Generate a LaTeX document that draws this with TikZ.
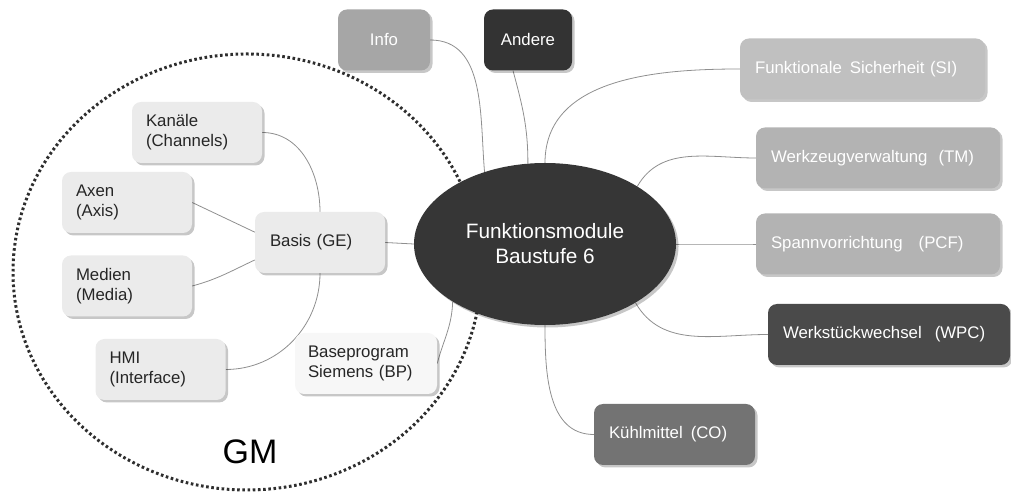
\documentclass[tikz,border=0pt]{standalone}
\usepackage{fontspec}
\setmainfont{Liberation Sans}
\usetikzlibrary{shapes.geometric,shadows}

\definecolor{boxlight}{HTML}{EBEBEB}
\definecolor{boxwhite}{HTML}{F7F7F7}
\definecolor{txtdark}{HTML}{262626}
\definecolor{infofill}{HTML}{A6A6A6}
\definecolor{anderefill}{HTML}{333333}
\definecolor{sifill}{HTML}{C0C0C0}
\definecolor{tmfill}{HTML}{B3B3B3}
\definecolor{wpcfill}{HTML}{4A4A4A}
\definecolor{cofill}{HTML}{737373}
\definecolor{ellfill}{HTML}{363636}
\definecolor{linkgray}{HTML}{8F8F8F}
\definecolor{dotgray}{HTML}{2E2E2E}

\pgfdeclarelayer{bg}
\pgfsetlayers{bg,main}

\begin{document}
\begin{tikzpicture}[x=1pt,y=1pt,
  softshadow/.style={drop shadow={shadow xshift=2.5pt,shadow yshift=-2.5pt,opacity=0.22,fill=black}},
  box/.style={rounded corners=9pt, minimum height=61pt, inner ysep=0pt,
    font=\fontsize{16.8}{20}\selectfont, softshadow},
  lbox/.style={box, fill=boxlight, text=txtdark, align=left, inner xsep=14pt, text width=102pt},
  rbox/.style={box, text=white, align=left, inner xsep=15pt, text width=#1},
  tbox/.style={box, text=white, align=center, inner xsep=0pt, minimum width=#1},
  link/.style={draw=linkgray, line width=0.8pt},
  gmline/.style={draw=dotgray, line width=3pt, dash pattern=on 2.6pt off 2.6pt},
]
\useasboundingbox (0,0) rectangle (1011,492);

% group boundary
\begin{pgfonlayer}{bg}
  \draw[gmline] (247,220) ellipse [x radius=234pt, y radius=218pt];
\end{pgfonlayer}

% central topic
\node[ellipse, fill=ellfill, minimum width=262pt, minimum height=162pt, inner sep=0pt,
  text=white, align=center, font=\fontsize{20.8}{25}\selectfont, softshadow]
  (core) at (545,248) {Funktionsmodule\\Baustufe 6};

% top nodes
\node[tbox=92pt, fill=infofill] (info) at (384,452) {Info};
\node[tbox=88pt, fill=anderefill] (andere) at (528,452) {Andere};

% right nodes
\node[rbox=215pt, fill=sifill] (si) at (862.5,423) {Funktionale\hspace{8pt}Sicherheit (SI)};
\node[rbox=214pt, fill=tmfill] (tm) at (878,334) {Werkzeugverwaltung\hspace{11pt}(TM)};
\node[rbox=214pt, fill=tmfill] (pcf) at (878,248) {Spannvorrichtung\hspace{16pt}(PCF)};
\node[rbox=212pt, fill=wpcfill] (wpc) at (889,157.5) {Werkstückwechsel\hspace{13pt}(WPC)};
\node[rbox=131pt, fill=cofill] (co) at (674.5,57.5) {Kühlmittel\hspace{8pt}(CO)};

% GM group
\node[lbox, text width=100pt, inner xsep=15pt] (basis) at (320,249.5) {Basis (GE)};
\node[lbox] (kan) at (197,359.5) {Kanäle\\(Channels)};
\node[lbox] (axen) at (127,289.5) {Axen\\(Axis)};
\node[lbox] (med) at (127,206) {Medien\\(Media)};
\node[lbox] (hmi) at (160.5,122.5) {HMI\\(Interface)};
\node[lbox, fill=boxwhite, text width=116pt, inner xsep=13pt] (bp) at (366,128.5) {Baseprogram\\Siemens (BP)};
\node[font=\fontsize{34}{40}\selectfont, text=black] (gm) at (250,40) {GM};

% connectors
\begin{pgfonlayer}{bg}
  \draw[link] (kan.east) to[out=0,in=90] (basis.north);
  \draw[link] (axen.east) -- (basis.171);
  \draw[link] (med.east) to[out=15,in=-155] (basis.195);
  \draw[link] (hmi.east) to[out=0,in=-90] (basis.south);
  \draw[link] (basis.east) -- (core.west);
  \draw[link] (bp.east) to[out=75,in=-92] (core.212);
  \draw[link] (info.east) to[out=0,in=95] (core.130);
  \draw[link] (andere.244) to[out=-75,in=90] (core.102);
  \draw[link] (core.90) to[out=90,in=180] (si.west);
  \draw[link] (core.32) to[out=60,in=180] (tm.west);
  \draw[link] (core.east) to[out=0,in=180] (pcf.west);
  \draw[link] (core.-33) to[out=-60,in=180] (wpc.west);
  \draw[link] (core.-90) to[out=-90,in=180] (co.west);
\end{pgfonlayer}
\end{tikzpicture}
\end{document}
